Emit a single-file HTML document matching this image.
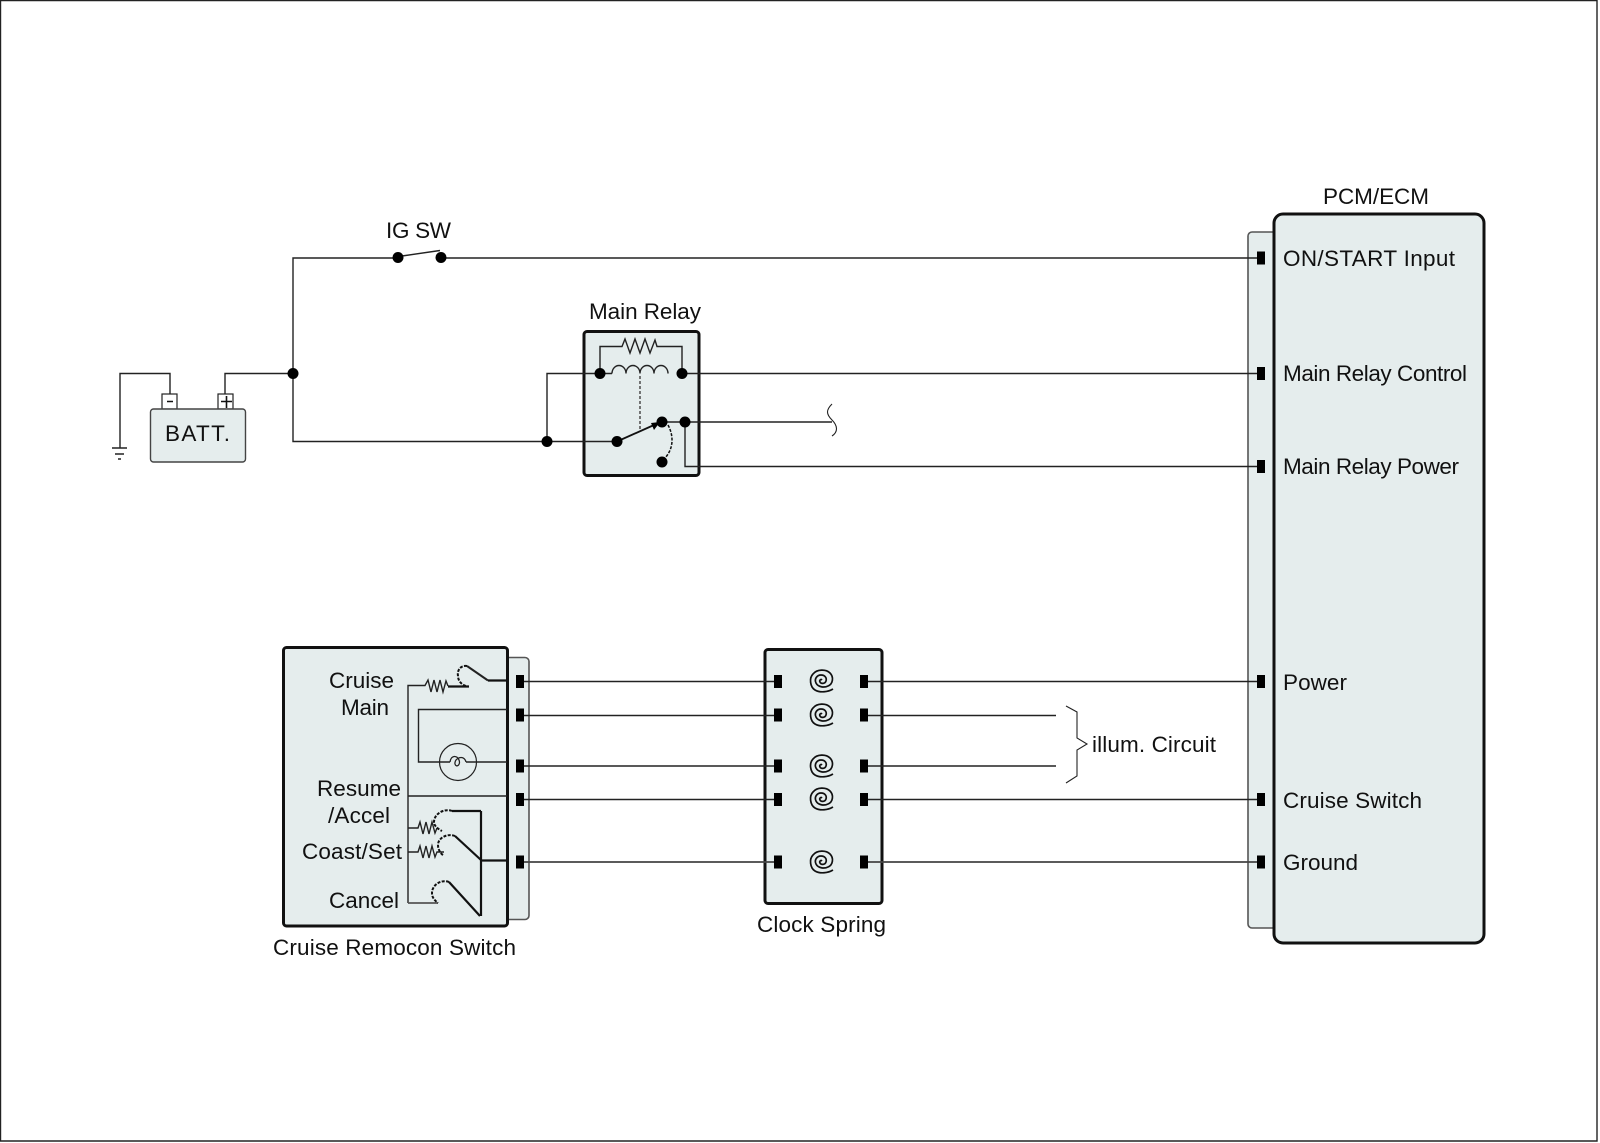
<!DOCTYPE html>
<html><head><meta charset="utf-8"><style>
html,body{margin:0;padding:0;background:#fff}
svg{display:block}
text{font-family:"Liberation Sans",sans-serif;font-size:22.5px;fill:#111}
.w{fill:none;stroke:#222;stroke-width:1.4}
.t{fill:none;stroke:#111;stroke-width:2.2}
.d{fill:none;stroke:#111;stroke-width:2;stroke-dasharray:3 1.4}
.b{fill:#e5eded;stroke:#111;stroke-width:3}
.tab{fill:#e5eded;stroke:#555;stroke-width:1.6}
</style></head><body>
<svg width="1600" height="1143" viewBox="0 0 1600 1143" xmlns="http://www.w3.org/2000/svg">
<defs>
<path id="sp" fill="none" stroke="#111" stroke-width="1.7" d="M11 8C6 11-2 12-7 9C-12 6-13-3-9-7C-5-12 4-12 8-8C12-4 11 3 6 5C2 7-4 6-6 2C-8-2-5-6-1-6C3-6 5-3 4 0C3 3-1 3-2 1C-3-1-1-2 0-1"/>
<rect id="c" x="-4" y="-6.500" width="8" height="13" fill="#000"/>
</defs>
<rect width="1600" height="1143" fill="#fff"/>
<path d="M0.5 0.5H1597V1141H0.5Z" fill="none" stroke="#222" stroke-width="1.4"/>

<!-- battery -->
<rect x="162" y="394" width="15" height="15" fill="#fff" stroke="#222" stroke-width="1.2"/>
<rect x="218" y="394" width="15" height="15" fill="#fff" stroke="#222" stroke-width="1.2"/>
<path d="M167 401.500H173M221 401.500H232M226.500 396V408" stroke="#111" stroke-width="1.6" fill="none"/>
<rect x="150.500" y="409" width="95" height="53" rx="3" fill="#e5eded" stroke="#444" stroke-width="1.4"/>
<text x="165" y="441" textLength="65" lengthAdjust="spacing">BATT.</text>
<path class="w" d="M120 448V373.500H170V394M225 394V373.500H293M293 373.500V258H398M293 373.500V441.500H547"/>
<path class="w" d="M112 448H127M115 454H124M118 459H121"/>
<circle cx="293" cy="373.500" r="5.500"/>

<!-- containers drawn first so wires sit on top -->
<rect class="tab" x="1248" y="232" width="40" height="696" rx="4"/>
<rect class="b" x="1274" y="214" width="210" height="729" rx="9"/>
<rect class="tab" x="495" y="657.500" width="34" height="262" rx="4"/>
<rect class="b" x="283.500" y="647.500" width="224" height="278.500" rx="3"/>
<rect class="b" x="765" y="649.500" width="117" height="254" rx="3"/>
<rect class="b" x="584" y="331.500" width="115" height="144" rx="3"/>

<!-- IG SW -->
<text x="386" y="238" textLength="65" lengthAdjust="spacing">IG SW</text>
<path class="w" d="M402 256L440 250.500M441 258H1258"/>
<circle cx="398" cy="257.500" r="5.500"/><circle cx="441" cy="257.500" r="5.500"/>

<!-- main relay -->
<text x="589" y="319" textLength="112" lengthAdjust="spacing">Main Relay</text>
<path class="w" d="M547 441.500V373.500H612M682 373.500H1258M547 441.500H617"/>
<path class="w" d="M600 373.500V346.500H622L625 339L630 353L635 339L640 353L645 339L650 353L655 340L657 346.500H682V373.500"/>
<path class="w" d="M612 373.500a7 8 0 0 1 14 0a7 8 0 0 1 14 0a7 8 0 0 1 14 0a7 8 0 0 1 14 0"/>
<path d="M640 376V430" fill="none" stroke="#555" stroke-width="1.6" stroke-dasharray="3 2"/>
<path d="M617 441.500L654 425" fill="none" stroke="#111" stroke-width="1.8"/>
<path d="M660 422L651 423L654 430Z" fill="#000"/>
<path class="d" style="stroke-width:1.5" d="M668 425C674 436 674 450 663 460"/>
<path class="w" d="M662 422H832M685 422V466.500H1258"/>
<path class="w" style="stroke-width:1.1" d="M832 404C826 410 826 414 832 420C838 426 838 432 832 436"/>
<circle cx="547" cy="441.500" r="5.500"/><circle cx="600" cy="373.500" r="5.500"/><circle cx="682" cy="373.500" r="5.500"/>
<circle cx="617" cy="441.500" r="5.500"/><circle cx="662" cy="422" r="5.500"/><circle cx="685" cy="422" r="5.500"/><circle cx="662" cy="462" r="5.500"/>

<!-- PCM labels -->
<text x="1323" y="204" textLength="106" lengthAdjust="spacing">PCM/ECM</text>
<text x="1283" y="266" textLength="172" lengthAdjust="spacing">ON/START Input</text>
<text x="1283" y="381" textLength="184" lengthAdjust="spacing">Main Relay Control</text>
<text x="1283" y="474" textLength="176" lengthAdjust="spacing">Main Relay Power</text>
<text x="1283" y="690" textLength="64" lengthAdjust="spacing">Power</text>
<text x="1283" y="808" textLength="139" lengthAdjust="spacing">Cruise Switch</text>
<text x="1283" y="870" textLength="75" lengthAdjust="spacing">Ground</text>

<!-- remocon -->
<text x="329" y="688" textLength="65" lengthAdjust="spacing">Cruise</text>
<text x="341" y="715" textLength="48" lengthAdjust="spacing">Main</text>
<text x="317" y="796" textLength="84" lengthAdjust="spacing">Resume</text>
<text x="328" y="823" textLength="62" lengthAdjust="spacing">/Accel</text>
<text x="302" y="859" textLength="100" lengthAdjust="spacing">Coast/Set</text>
<text x="329" y="908" textLength="70" lengthAdjust="spacing">Cancel</text>
<text x="273" y="955" textLength="243" lengthAdjust="spacing">Cruise Remocon Switch</text>

<path class="w" d="M408 903V685.500H425L428 680L431 692L434 680L437 692L440 680L443 692L446 681L448 686"/>
<path class="t" d="M448 686.500H469"/>
<path class="d" d="M467 666C460 665 457 671 458 676C458 681 462 685 466 686"/>
<path class="w" style="stroke-width:2" d="M467 666L488 680.500"/>
<path class="t" d="M488 680.500H507"/>
<path class="w" d="M507 709.500H418.500V762H450M466 762H507"/>
<circle cx="458" cy="762" r="18.500" fill="none" stroke="#222" stroke-width="1.2"/>
<path class="w" style="stroke-width:1.3" d="M450 762C451 755 457 755 459 760C461 765 456 768 455 764C454 758 464 754 466 762"/>
<path class="w" d="M408 796H507"/>
<path class="t" d="M452 811H481M481 811V916"/>
<path class="t" d="M455 836L481 860M449 882L480 916"/>
<path class="t" d="M481 860.500H508"/>
<path class="w" d="M408 828H418L420 822L423 834L426 822L429 834L432 822L435 833L437 828M408 852H418L420 846L423 858L426 846L429 858L432 846L435 857L437 852H444"/>
<path class="w" style="stroke-width:1.8;stroke:#555" d="M408 903H438"/>
<path class="d" d="M452 811C444 808 434 814 434 822C434 826 438 829 442 831"/>
<path class="d" d="M455 836C447 833 438 838 438 845C438 849 440 853 443 855"/>
<path class="d" d="M449 882C441 879 432 885 432 893C432 897 434 900 438 903"/>

<!-- clock spring + runs -->
<text x="757" y="932" textLength="129" lengthAdjust="spacing">Clock Spring</text>
<path class="w" d="M524 681.500H774M868 681.500H1258M524 715.500H774M868 715.500H1056M524 766H774M868 766H1056M524 799.500H774M868 799.500H1258"/>
<path class="w" style="stroke-width:1.7;stroke:#444" d="M524 862H774M868 862H1258"/>
<use href="#c" x="520" y="681.500"/><use href="#c" x="520" y="715"/><use href="#c" x="520" y="766"/><use href="#c" x="520" y="799.500"/><use href="#c" x="520" y="862"/>
<use href="#c" x="778" y="681.500"/><use href="#c" x="778" y="715"/><use href="#c" x="778" y="766"/><use href="#c" x="778" y="799.500"/><use href="#c" x="778" y="862"/>
<use href="#c" x="864" y="681.500"/><use href="#c" x="864" y="715"/><use href="#c" x="864" y="766"/><use href="#c" x="864" y="799.500"/><use href="#c" x="864" y="862"/>
<use href="#sp" x="822" y="681"/><use href="#sp" x="822" y="715"/><use href="#sp" x="822" y="766"/><use href="#sp" x="822" y="799"/><use href="#sp" x="822" y="862"/>
<use href="#c" x="1261" y="258"/><use href="#c" x="1261" y="373.500"/><use href="#c" x="1261" y="466.500"/>
<use href="#c" x="1261" y="681.500"/><use href="#c" x="1261" y="799.500"/><use href="#c" x="1261" y="862"/>

<!-- brace -->
<path class="w" style="stroke-width:1.1" d="M1066 706L1077 712V738L1087 744L1077 750V776L1066 783"/>
<text x="1092" y="752" textLength="124" lengthAdjust="spacing">illum. Circuit</text>
</svg>
</body></html>
